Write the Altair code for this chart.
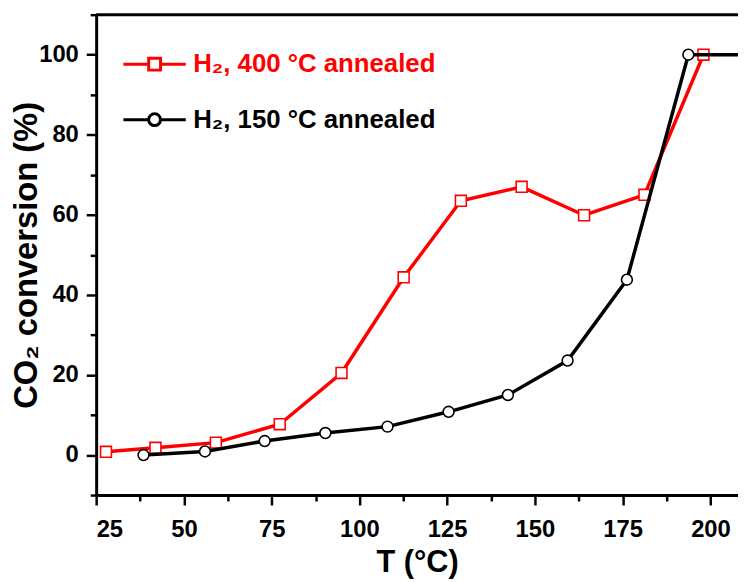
import altair as alt
import pandas as pd

RED_NAME = "H₂, 400 °C annealed"
BLACK_NAME = "H₂, 150 °C annealed"

red_T = [27.8, 41.9, 59.1, 77.3, 94.9, 112.6, 128.9, 146.2, 164.0, 181.2, 198.0]
red_Y = [0.8, 1.8, 3.1, 7.7, 20.5, 44.4, 63.5, 67.0, 59.9, 65.0, 100.0]
black_T = [38.5, 56.0, 73.0, 90.3, 108.0, 125.4, 142.3, 159.3, 176.2, 193.7, 212.0]
black_Y = [0.0, 0.9, 3.5, 5.5, 7.1, 10.8, 15.0, 23.6, 43.8, 100.0, 100.0]

x_tick_values = [25, 37.5, 50, 62.5, 75, 87.5, 100, 112.5, 125, 137.5, 150, 162.5, 175, 187.5, 200]
y_tick_values = [-10, 0, 10, 20, 30, 40, 50, 60, 70, 80, 90, 100, 110]

df = pd.concat([
    pd.DataFrame({"T": red_T, "Y": red_Y, "series": RED_NAME}),
    pd.DataFrame({"T": black_T, "Y": black_Y, "series": BLACK_NAME}),
], ignore_index=True)

W, H = 648, 485
FONT = "Liberation Sans"

SQ = "M-1,0H-0.19M0.19,0H1M-0.19,-0.19H0.19V0.19H-0.19Z"
CI = "M-1,0H-0.19M0.19,0H1M-0.19,0A0.19,0.19,0,1,0,0.19,0A0.19,0.19,0,1,0,-0.19,0Z"


def make_legend(symbol, label_color, ly):
    return alt.Legend(
        title=None, orient="none", legendX=26, legendY=ly,
        labelFont=FONT, labelFontSize=26, labelFontWeight="bold", labelColor=label_color,
        symbolType=symbol, symbolSize=3969, symbolStrokeWidth=3, symbolFillColor="white",
        labelOffset=6, padding=0, labelLimit=400,
    )


x = alt.X("T:Q", scale=alt.Scale(domain=[25, 25 + W / 3.544], nice=False, zero=False),
          axis=alt.Axis(title="T (°C)", values=x_tick_values,
                        labelExpr="datum.value % 25 === 0 ? datum.label : ''",
                        tickSize={"condition": {"test": "datum.value % 25 === 0", "value": 10}, "value": 6},
                        labelPadding=13, titlePadding=6))
y = alt.Y("Y:Q", scale=alt.Scale(domain=[-10, 110], nice=False, zero=False),
          axis=alt.Axis(title="CO₂ conversion (%)", values=y_tick_values,
                        labelExpr="datum.value % 20 === 0 ? datum.label : ''",
                        tickSize={"condition": {"test": "datum.value % 20 === 0", "value": 10}, "value": 6},
                        labelPadding=8, titleX=-53, titleAngle=270, titleBaseline="bottom",
                        titleFontSize=33))

color_red = alt.Color("series:N", scale=alt.Scale(domain=[RED_NAME], range=["#ff0000"]),
                      legend=make_legend(SQ, "#ff0000", 17))
color_blk = alt.Color("series:N", scale=alt.Scale(domain=[BLACK_NAME], range=["#000000"]),
                      legend=make_legend(CI, "#000000", 73))

base = alt.Chart(df)
red_src = base.transform_filter(alt.datum.series == RED_NAME)
blk_src = base.transform_filter(alt.datum.series == BLACK_NAME)

red_line = red_src.mark_line(strokeWidth=3.5, clip=True).encode(x=x, y=y, color=color_red)
red_pts = red_src.mark_point(shape="square", size=121, fill="white", filled=False, opacity=1,
                             strokeWidth=1.6, clip=True).encode(x=x, y=y, color=color_red)
blk_line = blk_src.mark_line(strokeWidth=3.5, clip=True).encode(x=x, y=y, color=color_blk)
blk_pts = blk_src.mark_point(shape="circle", size=120, fill="white", filled=False, opacity=1,
                             strokeWidth=1.6, clip=True).encode(x=x, y=y, color=color_blk)

red_layer = alt.layer(red_line, red_pts)
blk_layer = alt.layer(blk_line, blk_pts)

top_rule = alt.Chart(pd.DataFrame({"a": [0]})).mark_rule(color="black", strokeWidth=3).encode(
    x=alt.value(0), x2=alt.value(W), y=alt.value(0))

chart = alt.layer(red_layer, blk_layer, top_rule).resolve_scale(color="independent").properties(
    width=W, height=H,
    background="white",
    autosize=alt.AutoSizeParams(type="none"),
    padding={"left": 89, "top": 4, "right": 0, "bottom": 82},
).configure_view(stroke=None).configure_axis(
    grid=False, domainColor="black", domainWidth=3, tickColor="black", tickWidth=2.5,
    labelFont=FONT, labelFontSize=24, labelFontWeight="bold", labelColor="black",
    titleFont=FONT, titleFontSize=31, titleFontWeight="bold", titleColor="black",
)

chart.save("out.html", embed_options={"renderer": "svg", "actions": False})
